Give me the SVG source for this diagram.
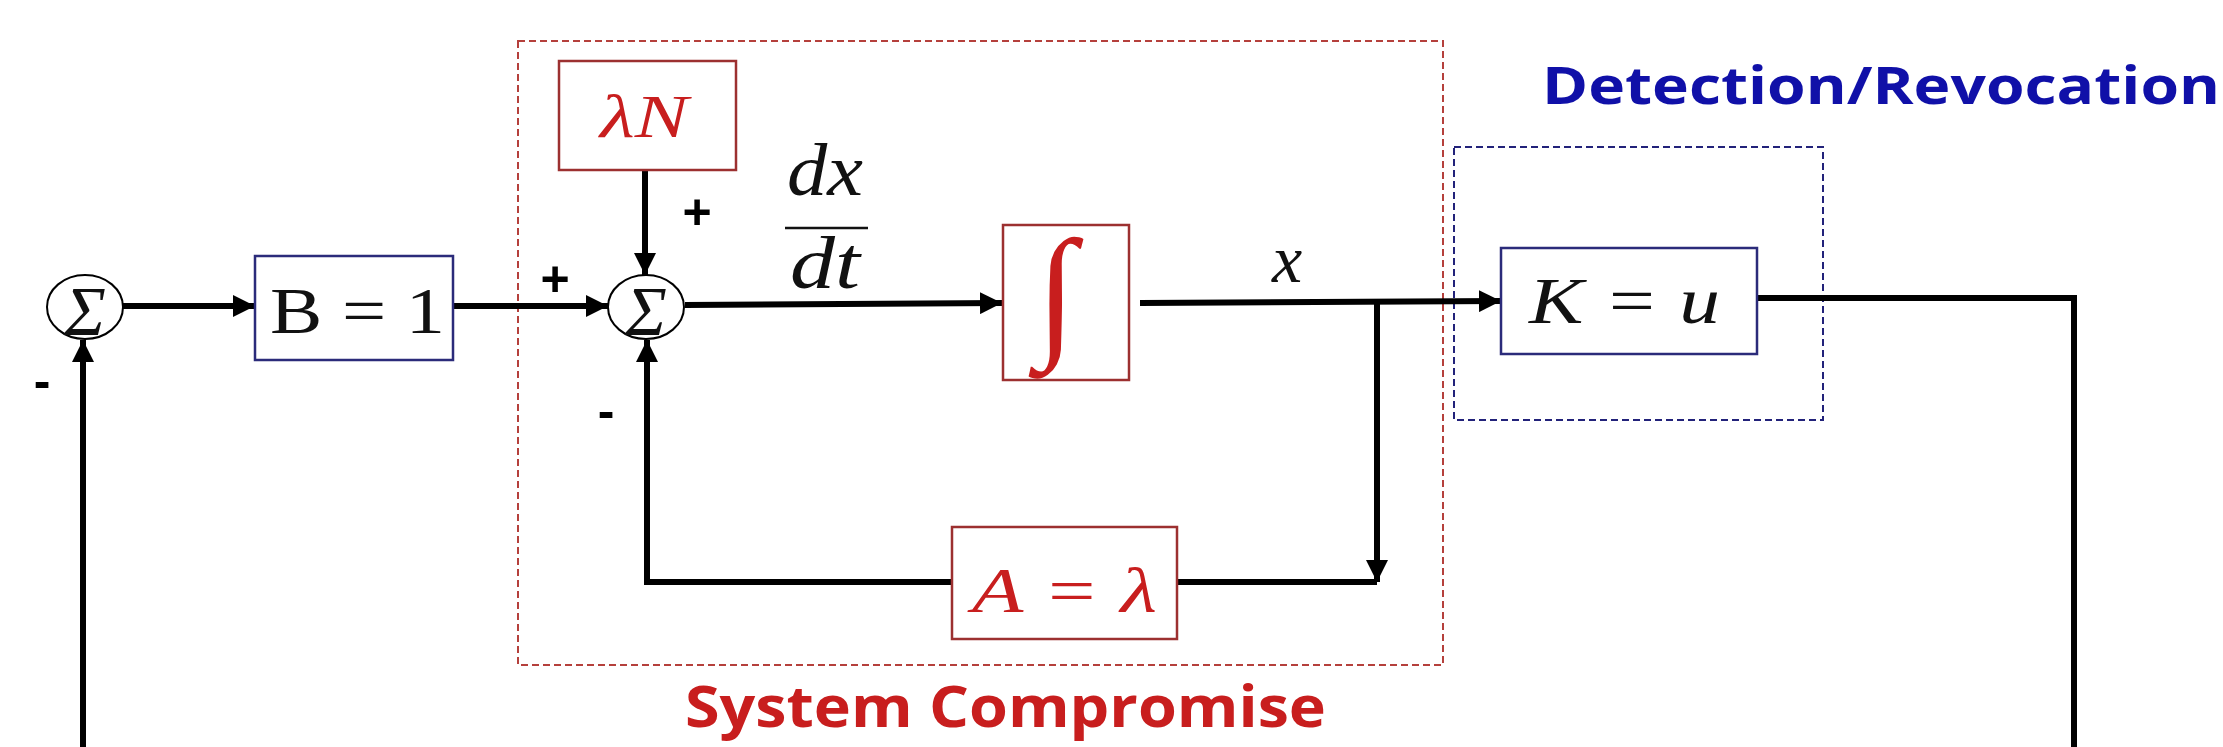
<svg xmlns="http://www.w3.org/2000/svg" width="2223" height="747" viewBox="0 0 2223 747">
<defs>
<style>
.bg{fill:#ffffff}
.wire{fill:none;stroke:#000;stroke-width:6}
.sum{fill:#fff;stroke:#000;stroke-width:2}
.bbox{fill:#fff;stroke:#2b2b7a;stroke-width:2.5}
.rbox{fill:#fff;stroke:#9c3030;stroke-width:2.5}
.math{font-family:"Liberation Serif","DejaVu Serif",serif;fill:#111}
.it{font-style:italic}
.red{fill:#c81e1e}
.sign{font-family:"Liberation Sans",Arial,sans-serif;font-weight:bold;fill:#000}
.grpRed{fill:none;stroke:#b5403c;stroke-width:2;stroke-dasharray:7 4}
.grpBlue{fill:none;stroke:#22227a;stroke-width:2;stroke-dasharray:7 4}
.title{font-family:"Open Sans","Liberation Sans",sans-serif;font-weight:bold}
</style>
<marker id="arr" markerUnits="userSpaceOnUse" markerWidth="24" markerHeight="22" refX="22" refY="11" orient="auto">
<path d="M0,0 L22,11 L0,22 Z" fill="#000"/>
</marker>
</defs>
<rect class="bg" x="0" y="0" width="2223" height="747"/>

<g id="group-system-compromise">
<rect class="grpRed" x="518" y="41" width="925" height="624"/>
<text class="title" x="685" y="727" font-size="57" textLength="641" lengthAdjust="spacingAndGlyphs" fill="#c81e1e">System Compromise</text>
</g>
<g id="group-detection">
<rect class="grpBlue" x="1454" y="147" width="369" height="273"/>
<text class="title" x="1542" y="104" font-size="52" textLength="678" lengthAdjust="spacingAndGlyphs" fill="#1010a8">Detection/Revocation</text>
</g>

<g id="connectors">
<line class="wire" x1="123" y1="306" x2="255" y2="306" marker-end="url(#arr)"/>
<line class="wire" x1="453" y1="306" x2="608" y2="306" marker-end="url(#arr)"/>
<line class="wire" x1="645" y1="170" x2="645" y2="275" marker-end="url(#arr)"/>
<line class="wire" x1="685" y1="305" x2="1002" y2="303" marker-end="url(#arr)"/>
<line class="wire" x1="1140" y1="303" x2="1501" y2="301" marker-end="url(#arr)"/>
<polyline class="wire" points="1377,303 1377,582" marker-end="url(#arr)"/>
<line class="wire" x1="1377" y1="582" x2="1177" y2="582"/>
<polyline class="wire" points="952,582 647,582 647,340" marker-end="url(#arr)"/>
<polyline class="wire" points="1757,298 2074,298 2074,750"/>
<polyline class="wire" points="83,750 83,340" marker-end="url(#arr)"/>
<text class="sign" x="555" y="296" font-size="50" text-anchor="middle">+</text>
<text class="sign" x="697" y="229" font-size="50" text-anchor="middle">+</text>
<text class="sign" x="42" y="398" font-size="50" text-anchor="middle">-</text>
<text class="sign" x="606" y="428" font-size="50" text-anchor="middle">-</text>
<g id="label-dxdt">
<text class="math it" x="787" y="195" font-size="74" textLength="76" lengthAdjust="spacingAndGlyphs">dx</text>
<line x1="785" y1="228" x2="868" y2="228" stroke="#111" stroke-width="2.5"/>
<text class="math it" x="790" y="288" font-size="74" textLength="70" lengthAdjust="spacingAndGlyphs">dt</text>
</g>
<text id="label-x" class="math it" x="1287" y="282" font-size="68" text-anchor="middle">x</text>
</g>

<g id="sum1">
<ellipse class="sum" cx="85" cy="307" rx="38" ry="32"/>
<text class="math it" x="85" y="335" font-size="70" text-anchor="middle">Σ</text>
</g>
<g id="sum2">
<ellipse class="sum" cx="646" cy="307" rx="38" ry="32"/>
<text class="math it" x="646" y="335" font-size="70" text-anchor="middle">Σ</text>
</g>
<g id="node-B">
<rect class="bbox" x="255" y="256" width="198" height="104"/>
<text class="math" x="270" y="333" font-size="66" textLength="175" lengthAdjust="spacingAndGlyphs">B = 1</text>
</g>
<g id="node-lambdaN">
<rect class="rbox" x="559" y="61" width="177" height="109"/>
<text class="math it red" x="600" y="137" font-size="62" textLength="88" lengthAdjust="spacingAndGlyphs">λN</text>
</g>
<g id="node-integral">
<rect class="rbox" x="1003" y="225" width="126" height="155"/>
<text class="math it red" x="1056" y="340" font-size="145" text-anchor="middle">∫</text>
</g>
<g id="node-A">
<rect class="rbox" x="952" y="527" width="225" height="112"/>
<text class="math it red" x="972" y="612" font-size="64" textLength="185" lengthAdjust="spacingAndGlyphs">A = λ</text>
</g>
<g id="node-K">
<rect class="bbox" x="1501" y="248" width="256" height="106"/>
<text class="math it" x="1529" y="323" font-size="66" textLength="191" lengthAdjust="spacingAndGlyphs">K = u</text>
</g>
</svg>
